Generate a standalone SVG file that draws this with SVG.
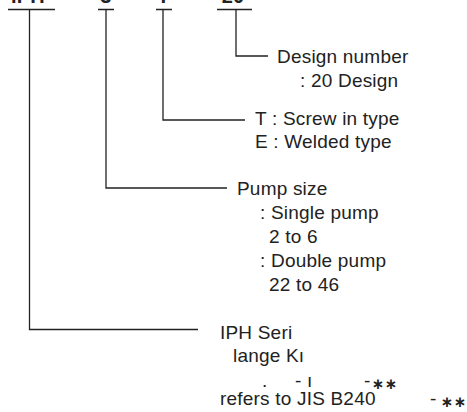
<svg xmlns="http://www.w3.org/2000/svg" width="467" height="412" viewBox="0 0 467 412">
<style>
text{font-family:"Liberation Sans",Arial,Helvetica,sans-serif;font-size:19px;letter-spacing:0.2px;fill:#222}
.top{font-weight:bold;font-size:20px;text-anchor:middle}
.c{fill:none;stroke:#222;stroke-width:1.3}
.star{font-family:"DejaVu Sans",sans-serif;font-size:15px;font-weight:bold;text-anchor:middle;letter-spacing:0}
</style>
<rect width="467" height="412" fill="#fff"/>
<g id="code">
<text class="top" x="28" y="2.5">IPH</text>
<text class="top" x="106" y="2.5">3</text>
<text class="top" x="163.5" y="2.5">T</text>
<text class="top" x="233" y="2.5">20</text>
</g>
<g id="connectors">
<path class="c" d="M8 9.5H55M98 9.5H114M156 9.5H172M217 9.5H252"/>
<path class="c" d="M29.5 9.5V329.5H198"/>
<path class="c" d="M106 9.5V188H227"/>
<path class="c" d="M163 9.5V120H245"/>
<path class="c" d="M236 9.5V56H268"/>
</g>
<g id="design">
<text x="277" y="63">Design number</text>
<text x="300" y="87">: 20 Design</text>
</g>
<g id="type">
<text x="255" y="125">T : Screw in type</text>
<text x="255" y="148">E : Welded type</text>
</g>
<g id="pump">
<text x="237" y="195">Pump size</text>
<text x="260" y="219">: Single pump</text>
<text x="269" y="243">2 to 6</text>
<text x="260" y="267">: Double pump</text>
<text x="269" y="291">22 to 46</text>
</g>
<g id="series">
<text x="220" y="339">IPH Seri</text>
<text x="233" y="362">lange Kı</text>
<text x="262" y="387">.</text>
<text x="295" y="387">- ı</text>
<text x="364" y="387">-</text>
<text class="star" x="378" y="389">∗</text>
<text class="star" x="391" y="389">∗</text>
<text x="220" y="405">refers to JIS B240</text>
<text x="430" y="405">-</text>
<text class="star" x="447" y="407">∗</text>
<text class="star" x="460" y="407">∗</text>
</g>
</svg>
